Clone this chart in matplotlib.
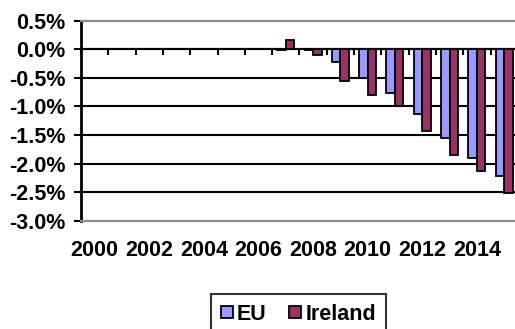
import numpy as np
import matplotlib
matplotlib.use("Agg")
import matplotlib.pyplot as plt
from matplotlib.ticker import FuncFormatter

plt.rcParams["font.family"] = ["Liberation Sans", "DejaVu Sans"]
plt.rcParams["font.weight"] = "bold"
plt.rcParams["font.size"] = 15.5

# Annual change (%), 2000-2015
years = list(range(2000, 2016))
eu = [0.0, 0.0, 0.0, 0.0, 0.0, 0.0, 0.0, -0.02, -0.01,
      -0.23, -0.50, -0.77, -1.14, -1.55, -1.91, -2.22]
ireland = [0.0, 0.0, 0.0, 0.0, 0.01, 0.0, 0.0, 0.17, -0.10,
           -0.56, -0.80, -1.00, -1.43, -1.85, -2.13, -2.52]
series_names = ["EU", "Ireland"]
y_ticks = [0.5, 0.0, -0.5, -1.0, -1.5, -2.0, -2.5, -3.0]

W, H = 515, 329
fig = plt.figure(figsize=(W / 100, H / 100), dpi=100)
ax = fig.add_axes([81 / W, (H - 220.7) / H, 436.8 / W, 200 / H])

x = np.arange(len(years))
bw = 0.31
ax.bar(x - bw / 2, eu, bw, color="#9999FF", edgecolor="black",
       linewidth=1.3, zorder=3, label=series_names[0])
ax.bar(x + bw / 2, ireland, bw, color="#993366", edgecolor="black",
       linewidth=1.3, zorder=3, label=series_names[1])

ymin, ymax = min(y_ticks), max(y_ticks)
ax.set_xlim(-0.5, len(years) - 0.5)
ax.set_ylim(ymin, ymax)

# interior gridlines
for v in y_ticks[1:-1]:
    ax.axhline(v, color="black", linewidth=1.5, zorder=1)

ax.set_yticks(y_ticks)
ax.yaxis.set_major_formatter(FuncFormatter(lambda v, _: f"{v:.1f}%"))
ax.tick_params(axis="y", direction="out", length=5, width=1.5,
               color="black", pad=6)

# category labels below the plot area, every other year
ax.set_xticks(x[::2])
ax.set_xticklabels([str(y) for y in years[::2]])
ax.tick_params(axis="x", length=0, pad=14)

for side in ("top", "bottom", "right"):
    ax.spines[side].set_color("#8c8c8c")
    ax.spines[side].set_linewidth(1.6)
ax.spines["left"].set_color("black")
ax.spines["left"].set_linewidth(2.0)

# category axis crossing at zero, tick marks between categories
zero_frac = (0 - ymin) / (ymax - ymin)
sec = ax.secondary_xaxis(zero_frac)
sec.set_alignment("bottom")
sec.set_xticks(np.arange(len(years) + 1) - 0.5)
sec.set_xticklabels([])
sec.tick_params(axis="x", direction="out", length=4.5, width=1.5,
                color="black")
sec.spines["bottom"].set_color("black")
sec.spines["bottom"].set_linewidth(1.5)

leg = fig.legend(loc="upper center", bbox_to_anchor=(298.3 / W, 1 - 294 / H),
                 ncol=2, frameon=True, fancybox=False, edgecolor="black",
                 handlelength=0.55, handleheight=0.45, handletextpad=0.2,
                 columnspacing=1.05, borderpad=0.45, borderaxespad=0)
leg.get_frame().set_linewidth(1.5)

fig.savefig("out.png", dpi=100)
